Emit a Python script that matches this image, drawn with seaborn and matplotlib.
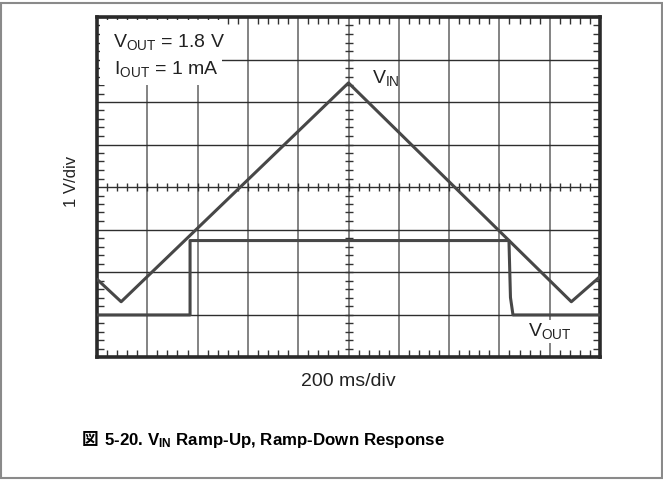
import numpy as np
import pandas as pd
import matplotlib
matplotlib.use("Agg")
import matplotlib.pyplot as plt
from matplotlib.patches import Rectangle
import seaborn as sns

# scope traces, in divisions (x: 200 ms/div, y: 1 V/div, bottom edge = 0)
vin_t = [0.0, 0.48, 5.0, 9.43, 10.0]
vin_v = [1.83, 1.30, 6.45, 1.30, 1.89]
vout_t = [0.0, 1.85, 1.85, 8.19, 8.22, 8.27, 10.0]
vout_v = [0.99, 0.99, 2.74, 2.74, 1.40, 0.99, 0.99]

n_xdiv = 10
n_ydiv = 8

sns.set_theme(style="white")
plt.rcParams["font.family"] = ["Liberation Sans", "DejaVu Sans"]
plt.rcParams["mathtext.default"] = "regular"

trace_color = "#474747"
text_color = "#222222"

fig = plt.figure(figsize=(6.63, 4.8), dpi=100)
ax = fig.add_axes([97 / 663, 1 - 357 / 480, 503 / 663, 340 / 480])

vin = pd.DataFrame({"t": vin_t, "v": vin_v})
vout = pd.DataFrame({"t": vout_t, "v": vout_v})
sns.lineplot(data=vin, x="t", y="v", sort=False, estimator=None, color=trace_color,
             lw=2.2, ax=ax, zorder=5)
sns.lineplot(data=vout, x="t", y="v", sort=False, estimator=None, color=trace_color,
             lw=2.2, ax=ax, zorder=5)

ax.set_xlim(0, n_xdiv)
ax.set_ylim(0, n_ydiv)
ax.set_xticks(np.arange(0, n_xdiv + 1))
ax.set_yticks(np.arange(0, n_ydiv + 1))
ax.set_xticks(np.arange(0, n_xdiv + 0.01, 0.2), minor=True)
ax.set_yticks(np.arange(0, n_ydiv + 0.01, 0.2), minor=True)
ax.set_xticklabels([])
ax.set_yticklabels([])
ax.set_xlabel("")
ax.set_ylabel("")
ax.tick_params(which="both", direction="in", top=True, right=True, bottom=True, left=True,
               color="#333333")
ax.tick_params(which="major", length=0)
ax.tick_params(which="minor", length=5, width=1)

ax.xaxis.grid(True, which="major", color="#7a7a7a", lw=1.3)
ax.yaxis.grid(True, which="major", color="#2e2e2e", lw=1.0)
ax.set_axisbelow(True)
for s in ax.spines.values():
    s.set_color("#2a2a2a")
    s.set_linewidth(2.6)
    s.set_visible(True)

# minor ticks along the centre lines
cx = np.arange(0, n_xdiv + 0.01, 0.2)
cy = np.arange(0, n_ydiv + 0.01, 0.2)
ax.plot(cx, np.full_like(cx, n_ydiv / 2), ls="none", marker="|", ms=6, mew=1,
        color="#333333", zorder=2)
ax.plot(np.full_like(cy, n_xdiv / 2), cy, ls="none", marker="_", ms=6, mew=1,
        color="#333333", zorder=2)

# white patch behind the conditions text
ax.add_patch(Rectangle((0.06, 6.4), 2.42, 1.52, facecolor="white", edgecolor="none", zorder=3))
ax.text(0.31, 7.29, r"V$_{OUT}$ = 1.8 V", fontsize=14, color=text_color, va="baseline",
        zorder=6)
ax.text(0.33, 6.66, r"I$_{OUT}$ = 1 mA", fontsize=14, color=text_color, va="baseline",
        zorder=6)
ax.text(5.47, 6.45, r"V$_{IN}$", fontsize=14, color=text_color, va="baseline", zorder=6)
ax.text(8.57, 0.49, r"V$_{OUT}$", fontsize=14, color=text_color, va="baseline", zorder=6,
        bbox=dict(facecolor="white", edgecolor="none", pad=1))

fig.text(72 / 663, 1 - 181 / 480, "1 V/div", rotation=90, ha="center", va="center",
         fontsize=12, color=text_color)
fig.text(348 / 663, 1 - 381 / 480, "200 ms/div", ha="center", va="center",
         fontsize=14, color=text_color)

# caption
fig.text(98 / 663, 1 - 440 / 480, "図", ha="right", va="center", fontsize=12,
         fontweight="bold", family=["Noto Sans CJK JP", "DejaVu Sans"], color="black")
fig.text(104 / 663, 1 - 440 / 480, r"5-20. V$_{IN}$ Ramp-Up, Ramp-Down Response",
         ha="left", va="center", fontsize=12.2, fontweight="bold", color="black")

# outer frame
fig.patches.append(Rectangle((0.001, 0.004), 0.997, 0.99, transform=fig.transFigure,
                             fill=False, edgecolor="#8a8a8a", lw=1.5))

fig.savefig("out.png", dpi=100)
